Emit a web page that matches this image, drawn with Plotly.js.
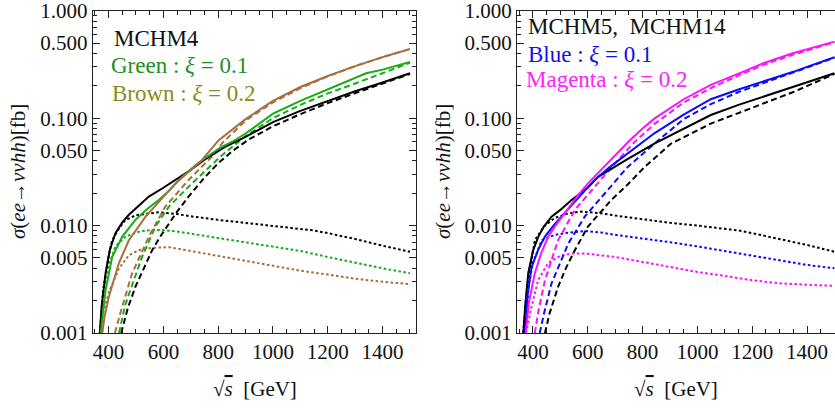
<!DOCTYPE html>
<html>
<head>
<meta charset="utf-8">
<script src="https://cdn.plot.ly/plotly-3.0.1.min.js"></script>
<style>html,body{margin:0;padding:0;background:#fff;}#chart{width:835px;height:408px;}</style>
</head>
<body>
<div id="chart"></div>
<script>
// ---------- Left panel: MCHM4 ----------
const m4_black_solid_x = [368,375,389,405,425,450,474,500,547,600,644,700,750,825,900,1000,1100,1200,1300,1400,1500];
const m4_black_solid_y = [0.001,0.0018,0.0036,0.006,0.0085,0.0107,0.0126,0.0145,0.0186,0.0225,0.0266,0.033,0.041,0.054,0.067,0.092,0.117,0.145,0.178,0.215,0.262];
const m4_black_dash_x = [446,470,498,530,559,590,620,650,692,750,800,850,910,1000,1100,1200,1300,1400,1500];
const m4_black_dash_y = [0.001,0.0017,0.0027,0.004,0.0059,0.008,0.0105,0.0135,0.0186,0.028,0.038,0.049,0.063,0.084,0.109,0.138,0.171,0.21,0.258];
const m4_black_dot_x = [368,380,400,413,438,460,500,550,583,650,700,800,900,1000,1100,1150,1200,1300,1400,1500];
const m4_black_dot_y = [0.001,0.0025,0.0052,0.0073,0.0094,0.0112,0.0125,0.0131,0.0133,0.0128,0.0122,0.0113,0.0106,0.0100,0.0093,0.0090,0.0085,0.0075,0.0065,0.0057];

const m4_green_solid_x = [371,380,389,413,450,498,540,583,620,668,720,806,850,900,1000,1100,1200,1300,1340,1400,1500];
const m4_green_solid_y = [0.001,0.0017,0.0025,0.0051,0.0079,0.0113,0.0142,0.0173,0.021,0.0284,0.037,0.053,0.060,0.072,0.110,0.145,0.185,0.235,0.262,0.283,0.333];
const m4_green_dash_x = [438,460,490,522,571,620,704,813,900,1000,1100,1200,1300,1340,1400,1500];
const m4_green_dash_y = [0.001,0.0018,0.003,0.0051,0.0098,0.015,0.0247,0.045,0.068,0.100,0.133,0.17,0.21,0.23,0.26,0.328];
const m4_green_dot_x = [370,380,389,400,425,462,500,522,560,600,650,700,800,900,1000,1100,1200,1300,1400,1500];
const m4_green_dot_y = [0.001,0.0021,0.0031,0.0042,0.0064,0.0079,0.0086,0.0089,0.0091,0.0091,0.0088,0.0084,0.0077,0.0070,0.0064,0.0058,0.0051,0.0045,0.0040,0.0036];

const m4_brown_solid_x = [377,385,401,438,474,535,600,644,700,741,801,900,1000,1100,1200,1300,1400,1500];
const m4_brown_solid_y = [0.001,0.0014,0.00218,0.0045,0.0073,0.0121,0.0185,0.0247,0.033,0.0408,0.062,0.098,0.145,0.195,0.247,0.305,0.37,0.441];
const m4_brown_dash_x = [423,445,486,547,607,692,789,813,900,1000,1100,1200,1300,1400,1500];
const m4_brown_dash_y = [0.001,0.0016,0.0036,0.0079,0.015,0.0266,0.047,0.058,0.095,0.14,0.19,0.245,0.305,0.37,0.44];
const m4_brown_dot_x = [372,380,401,438,474,510,560,620,700,800,900,1000,1100,1200,1300,1400,1500];
const m4_brown_dot_y = [0.001,0.0015,0.0024,0.0040,0.0053,0.0059,0.0062,0.0063,0.0058,0.0052,0.0047,0.0042,0.0038,0.0035,0.0032,0.0030,0.00285];

// ---------- Right panel: MCHM5, MCHM14 ----------
const m5_black_solid_x = [365,372,383,400,420,440,468,500,541,600,638,700,745,843,950,1049,1150,1243,1350,1400,1500];
const m5_black_solid_y = [0.001,0.0018,0.0036,0.0058,0.0079,0.0098,0.0121,0.014,0.0173,0.0225,0.0284,0.035,0.0415,0.058,0.08,0.107,0.133,0.159,0.195,0.215,0.262];
const m5_black_dash_x = [444,460,492,520,553,601,686,745,807,904,1049,1150,1243,1350,1500];
const m5_black_dash_y = [0.001,0.0015,0.0027,0.004,0.0059,0.0098,0.0173,0.024,0.035,0.058,0.089,0.112,0.138,0.175,0.258];
const m5_black_dot_x = [365,380,407,440,480,530,577,650,700,800,900,1000,1100,1150,1200,1300,1400,1500];
const m5_black_dot_y = [0.001,0.0028,0.0073,0.0098,0.0118,0.013,0.0135,0.013,0.0124,0.0114,0.0106,0.0100,0.0093,0.0090,0.0085,0.0075,0.0066,0.0057];

const m5_blue_solid_x = [371,380,395,420,444,475,504,560,625,680,745,843,950,1049,1150,1243,1350,1400,1500];
const m5_blue_solid_y = [0.001,0.0022,0.0041,0.006,0.0079,0.0100,0.0121,0.0175,0.0266,0.035,0.047,0.0723,0.108,0.150,0.185,0.219,0.27,0.30,0.369];
const m5_blue_dash_x = [425,440,468,500,529,589,662,745,840,950,1049,1150,1243,1350,1500];
const m5_blue_dash_y = [0.001,0.0015,0.0029,0.0046,0.0068,0.0121,0.02,0.035,0.057,0.098,0.135,0.175,0.213,0.265,0.365];
const m5_blue_dot_x = [371,385,400,432,480,530,589,650,700,800,900,1000,1100,1200,1300,1400,1500];
const m5_blue_dot_y = [0.001,0.0028,0.0045,0.0073,0.0082,0.0086,0.0089,0.0086,0.0082,0.0076,0.0070,0.0064,0.0058,0.0052,0.0047,0.0043,0.0040];

const m5_mag_solid_x = [374,385,407,430,456,485,516,560,601,650,700,750,800,843,950,1049,1150,1243,1345,1400,1500];
const m5_mag_solid_y = [0.001,0.0019,0.0036,0.0055,0.0079,0.0102,0.013,0.0185,0.0247,0.0335,0.0455,0.061,0.08,0.099,0.15,0.204,0.26,0.326,0.40,0.44,0.516];
const m5_mag_dash_x = [407,420,444,470,492,553,625,710,771,843,950,1049,1150,1243,1350,1500];
const m5_mag_dash_y = [0.001,0.0016,0.0031,0.005,0.0073,0.014,0.023,0.0408,0.0600,0.088,0.14,0.19,0.25,0.315,0.39,0.51];
const m5_mag_dot_x = [375,395,419,456,504,550,589,650,700,818,900,1000,1100,1200,1300,1400,1500];
const m5_mag_dot_y = [0.001,0.00176,0.0031,0.0045,0.0053,0.0055,0.0055,0.0053,0.0051,0.0045,0.0041,0.0037,0.0034,0.0031,0.0029,0.0028,0.00274];

// ---------- Axis ticks ----------
const yTickVals = [0.001,0.005,0.01,0.05,0.1,0.5,1];
const yTickText = ['0.001','0.005','0.010','0.050','0.100','0.500','1.000'];
const yMinorVals = [0.002,0.003,0.004,0.006,0.007,0.008,0.009,0.02,0.03,0.04,0.06,0.07,0.08,0.09,0.2,0.3,0.4,0.6,0.7,0.8,0.9];
const xTickVals = [400,600,800,1000,1200,1400];
const xTickText = ['400','600','800','1000','1200','1400'];

const FONT = 'Liberation Serif';
const C = {black:'#000000', green:'#16ac16', brown:'#a5703f', blue:'#0a0aff', magenta:'#ff10ff'};
const DASH = {solid:'solid', dash:'6px,3.5px', dot:'2.6px,2.4px'};

function tr(x, y, color, dash, xa, ya) {
  return {x:x, y:y, type:'scatter', mode:'lines', xaxis:xa, yaxis:ya,
          line:{color:color, width:2, dash:DASH[dash], shape:'linear'}, hoverinfo:'skip', showlegend:false};
}

const data = [
  tr(m4_black_dot_x, m4_black_dot_y, C.black, 'dot','x','y'),
  tr(m4_green_dot_x, m4_green_dot_y, C.green, 'dot','x','y'),
  tr(m4_brown_dot_x, m4_brown_dot_y, C.brown, 'dot','x','y'),
  tr(m4_black_dash_x, m4_black_dash_y, C.black, 'dash','x','y'),
  tr(m4_green_dash_x, m4_green_dash_y, C.green, 'dash','x','y'),
  tr(m4_brown_dash_x, m4_brown_dash_y, C.brown, 'dash','x','y'),
  tr(m4_black_solid_x, m4_black_solid_y, C.black, 'solid','x','y'),
  tr(m4_green_solid_x, m4_green_solid_y, C.green, 'solid','x','y'),
  tr(m4_brown_solid_x, m4_brown_solid_y, C.brown, 'solid','x','y'),

  tr(m5_black_dot_x, m5_black_dot_y, C.black, 'dot','x2','y2'),
  tr(m5_blue_dot_x, m5_blue_dot_y, C.blue, 'dot','x2','y2'),
  tr(m5_mag_dot_x, m5_mag_dot_y, C.magenta, 'dot','x2','y2'),
  tr(m5_black_dash_x, m5_black_dash_y, C.black, 'dash','x2','y2'),
  tr(m5_blue_dash_x, m5_blue_dash_y, C.blue, 'dash','x2','y2'),
  tr(m5_mag_dash_x, m5_mag_dash_y, C.magenta, 'dash','x2','y2'),
  tr(m5_black_solid_x, m5_black_solid_y, C.black, 'solid','x2','y2'),
  tr(m5_blue_solid_x, m5_blue_solid_y, C.blue, 'solid','x2','y2'),
  tr(m5_mag_solid_x, m5_mag_solid_y, C.magenta, 'solid','x2','y2')
];

function xAxis(domain, range, anchor, mirror) {
  return {domain:domain, range:range, anchor:anchor, showgrid:false, zeroline:false,
    showline:true, linecolor:'#222', linewidth:1, mirror:mirror,
    ticks:'inside', ticklen:7, tickwidth:1, tickcolor:'#222',
    tickmode:'array', tickvals:xTickVals, ticktext:xTickText,
    tickfont:{family:FONT, size:21, color:'#111'}, ticklabeloverflow:'allow',
    minor:{ticks:'inside', ticklen:4, tickwidth:1, tickcolor:'#222', dtick:50, tick0:0, showgrid:false},
    automargin:false, fixedrange:true};
}
function yAxis(domain, anchor, mirror) {
  return {domain:domain, type:'log', range:[-3,0.0003], anchor:anchor, showgrid:false, zeroline:false,
    showline:true, linecolor:'#222', linewidth:1, mirror:mirror,
    ticks:'inside', ticklen:7, tickwidth:1, tickcolor:'#222',
    tickmode:'array', tickvals:yTickVals, ticktext:yTickText,
    tickfont:{family:FONT, size:21, color:'#111'}, ticklabeloverflow:'allow',
    minor:{ticks:'inside', ticklen:4, tickwidth:1, tickcolor:'#222', tickmode:'array', tickvals:yMinorVals, showgrid:false},
    automargin:false, fixedrange:true};
}

const W = 835, H = 408;
function ann(text, px, py, color, size, extra) {
  return Object.assign({text:text, xref:'paper', yref:'paper', x:px/W, y:1-py/H,
    xanchor:'left', yanchor:'middle', showarrow:false,
    font:{family:FONT, size:size, color:color}}, extra||{});
}
const yTitle = '<i>σ</i>(<i>ee</i>→<i>νν</i><i>hh</i>)[fb]';
const xTitle = '√<span style="text-decoration:overline"><i>s</i></span>  [GeV]';

const layout = {
  width:W, height:H, margin:{l:0,r:0,t:0,b:0}, paper_bgcolor:'#fff', plot_bgcolor:'#fff',
  showlegend:false, font:{family:FONT, size:21, color:'#111'},
  xaxis: xAxis([92.7/W, 416/W], [342,1522], 'y', 'ticks'),
  yaxis: yAxis([(H-333)/H, (H-10.7)/H], 'x', 'ticks'),
  xaxis2: xAxis([517/W, 1], [342,1502], 'y2', 'ticks'),
  yaxis2: yAxis([(H-333)/H, (H-10.7)/H], 'x2', false),
  annotations: [
    ann('MCHM4', 112, 38, '#111', 23),
    ann('Green : <i>ξ</i> = 0.1', 109, 66, '#1f8f1f', 23),
    ann('Brown : <i>ξ</i> = 0.2', 110, 94, '#8c8a20', 23),
    ann('MCHM5,  MCHM14', 526, 27, '#111', 23),
    ann('Blue : <i>ξ</i> = 0.1', 526, 55, '#1010f0', 23),
    ann('Magenta : <i>ξ</i> = 0.2', 524, 80, '#ff22ff', 23),
    ann(yTitle, 18, 172, '#111', 21, {xanchor:'center', textangle:-90}),
    ann(yTitle, 443, 172, '#111', 21, {xanchor:'center', textangle:-90}),
    ann(xTitle, 255, 389, '#111', 21, {xanchor:'center'}),
    ann(xTitle, 676, 389, '#111', 21, {xanchor:'center'})
  ]
};

Plotly.newPlot('chart', data, layout, {displayModeBar:false, staticPlot:true});
</script>
</body>
</html>
